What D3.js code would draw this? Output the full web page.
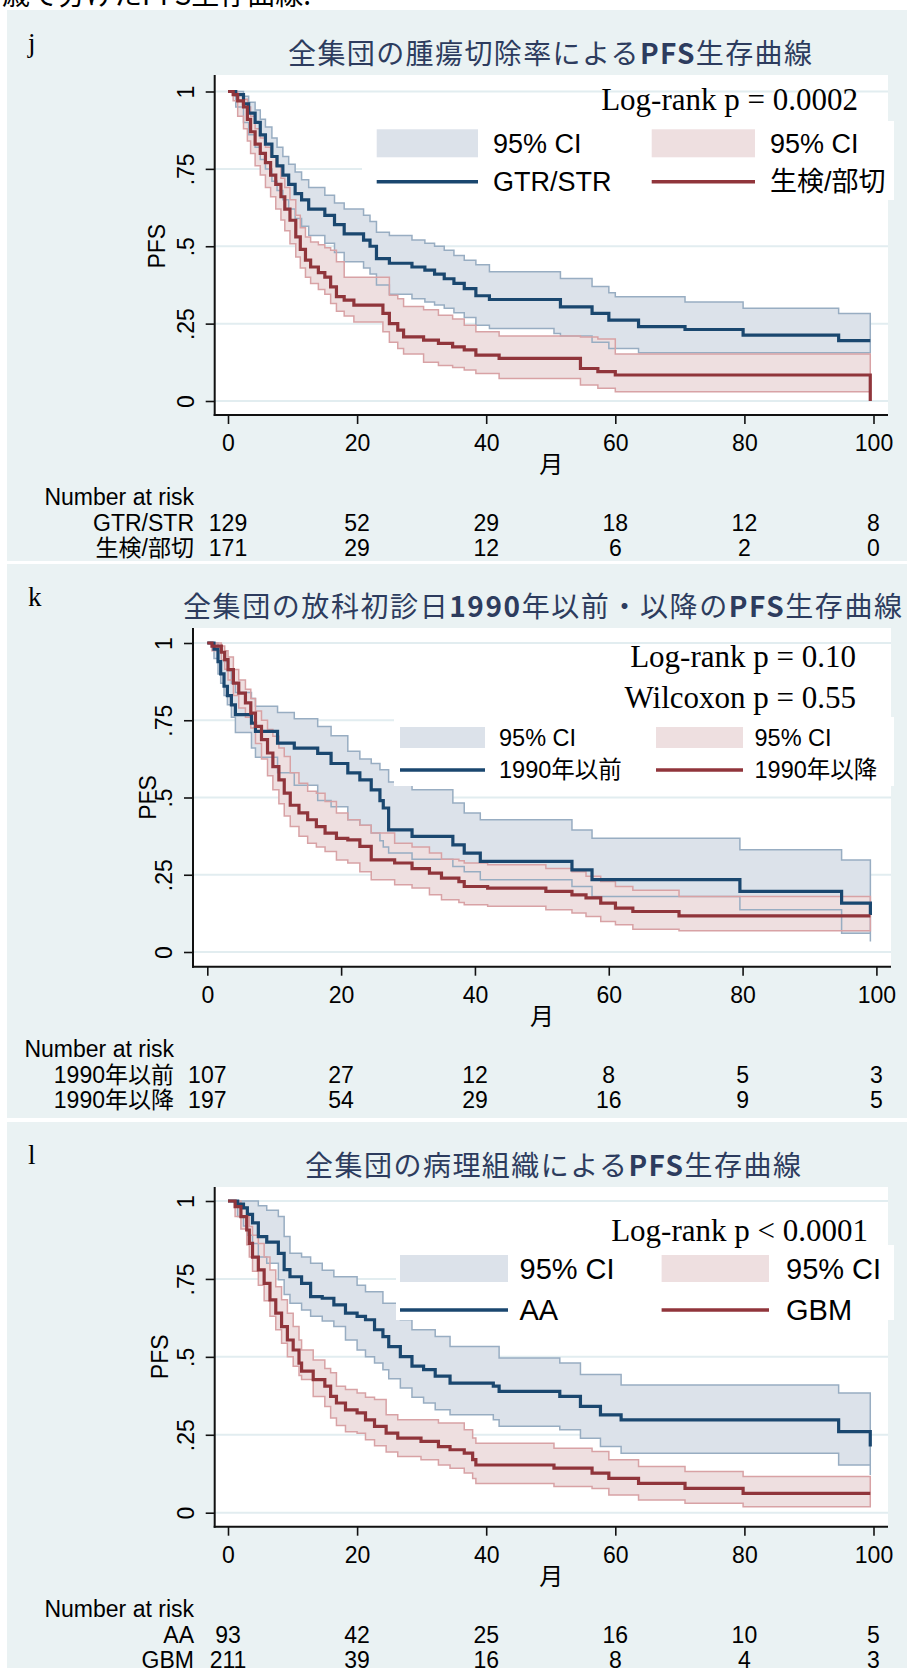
<!DOCTYPE html>
<html lang="ja">
<head>
<meta charset="utf-8">
<title>PFS生存曲線</title>
<script src="https://cdn.jsdelivr.net/npm/d3@7/dist/d3.min.js"></script>
<style>
  html, body { margin: 0; padding: 0; background: #ffffff; }
  svg { display: block; }
</style>
</head>
<body>
<svg id="fig" width="910" height="1668"></svg>
<script>
// ---------- shared axis ticks ----------
const monthTicks = [0, 20, 40, 60, 80, 100];
const survTicks = [0, 0.25, 0.5, 0.75, 1];
const survTickLabels = ["0", ".25", ".5", ".75", "1"];

// ---------- panel j : resection extent ----------
const jTitle = "全集団の腫瘍切除率によるPFS生存曲線";
const jGroups = ["GTR/STR", "生検/部切"];
const jStats = ["Log-rank p = 0.0002"];
const jTimeA = [0, 1.2, 2.4, 3.2, 4.2, 5.0, 5.8, 6.8, 7.6, 8.5, 9.4, 10.4, 11.4, 12.5, 15.0, 16.5, 18.0, 21.0, 22.0, 23.0, 25.0, 28.5, 30.5, 32.0, 33.5, 35.0, 36.6, 38.4, 40.5, 50.5, 51.5, 56.4, 59.0, 60.0, 63.6, 70.8, 79.8, 94.6, 99.5];
const jSurvA = [1, 0.99, 0.96, 0.93, 0.90, 0.86, 0.83, 0.79, 0.76, 0.73, 0.70, 0.67, 0.65, 0.62, 0.60, 0.57, 0.54, 0.52, 0.50, 0.46, 0.445, 0.433, 0.423, 0.41, 0.395, 0.38, 0.363, 0.34, 0.328, 0.328, 0.304, 0.283, 0.261, 0.261, 0.24, 0.231, 0.213, 0.195, 0.195];
const jLowA  = [1, 0.95, 0.90, 0.86, 0.82, 0.78, 0.75, 0.71, 0.68, 0.65, 0.62, 0.59, 0.565, 0.535, 0.51, 0.48, 0.45, 0.43, 0.41, 0.375, 0.345, 0.33, 0.32, 0.31, 0.30, 0.285, 0.27, 0.245, 0.234, 0.218, 0.21, 0.19, 0.17, 0.17, 0.156, 0.156, 0.156, 0.156, 0.156];
const jHighA = [1, 1, 0.985, 0.965, 0.94, 0.91, 0.885, 0.85, 0.82, 0.79, 0.765, 0.74, 0.715, 0.69, 0.665, 0.64, 0.62, 0.60, 0.58, 0.545, 0.535, 0.52, 0.51, 0.50, 0.487, 0.47, 0.455, 0.44, 0.418, 0.418, 0.396, 0.37, 0.35, 0.337, 0.337, 0.32, 0.30, 0.283, 0.283];
const jTimeB = [0, 0.8, 1.5, 2.4, 3.0, 3.5, 4.2, 5.0, 5.8, 6.6, 7.4, 8.2, 8.8, 9.6, 10.5, 11.2, 12.0, 12.8, 14.0, 15.0, 15.9, 16.8, 18.0, 19.5, 24.0, 25.0, 26.3, 27.2, 30.3, 32.6, 34.8, 36.6, 38.4, 42.0, 54.6, 57.3, 60.0, 99.5];
const jSurvB = [1, 0.99, 0.97, 0.95, 0.91, 0.87, 0.83, 0.80, 0.77, 0.73, 0.70, 0.66, 0.62, 0.584, 0.53, 0.49, 0.455, 0.433, 0.415, 0.40, 0.369, 0.337, 0.326, 0.31, 0.283, 0.25, 0.229, 0.207, 0.197, 0.186, 0.175, 0.165, 0.148, 0.138, 0.105, 0.095, 0.084, 0];
const jLowB  = [1, 0.97, 0.92, 0.88, 0.84, 0.80, 0.76, 0.73, 0.69, 0.66, 0.62, 0.585, 0.55, 0.508, 0.465, 0.43, 0.40, 0.38, 0.36, 0.345, 0.315, 0.29, 0.275, 0.255, 0.224, 0.19, 0.17, 0.152, 0.125, 0.115, 0.108, 0.10, 0.089, 0.073, 0.052, 0.041, 0.03, 0.03];
const jHighB = [1, 1, 0.99, 0.975, 0.95, 0.92, 0.88, 0.85, 0.82, 0.79, 0.76, 0.72, 0.69, 0.65, 0.60, 0.56, 0.53, 0.514, 0.505, 0.495, 0.487, 0.45, 0.40, 0.40, 0.40, 0.342, 0.33, 0.305, 0.295, 0.277, 0.265, 0.245, 0.224, 0.21, 0.207, 0.2, 0.152, 0.152];
const jRiskA = [129, 52, 29, 18, 12, 8];
const jRiskB = [171, 29, 12, 6, 2, 0];

// ---------- panel k : first visit before / after 1990 ----------
const kTitle = "全集団の放科初診日1990年以前・以降のPFS生存曲線";
const kGroups = ["1990年以前", "1990年以降"];
const kStats = ["Log-rank p = 0.10", "Wilcoxon p = 0.55"];
const kTimeA = [0, 1.0, 1.6, 2.0, 2.5, 3.0, 3.6, 4.2, 6.6, 7.2, 10.5, 13.0, 16.5, 18.5, 21.0, 22.8, 24.5, 25.8, 26.3, 27.1, 30.6, 36.7, 38.4, 40.8, 54.5, 57.5, 79.6, 94.8, 99.1];
const kSurvA = [1, 0.98, 0.94, 0.90, 0.86, 0.83, 0.80, 0.768, 0.741, 0.714, 0.676, 0.66, 0.643, 0.61, 0.58, 0.557, 0.525, 0.49, 0.466, 0.395, 0.374, 0.347, 0.32, 0.293, 0.266, 0.234, 0.196, 0.158, 0.12];
const kLowA  = [1, 0.95, 0.90, 0.87, 0.83, 0.80, 0.76, 0.71, 0.66, 0.63, 0.58, 0.54, 0.49, 0.47, 0.428, 0.41, 0.385, 0.36, 0.34, 0.32, 0.30, 0.277, 0.26, 0.234, 0.212, 0.18, 0.137, 0.061, 0.034];
const kHighA = [1, 1, 0.99, 0.97, 0.94, 0.91, 0.87, 0.84, 0.82, 0.795, 0.775, 0.755, 0.73, 0.70, 0.65, 0.625, 0.61, 0.59, 0.59, 0.55, 0.525, 0.482, 0.45, 0.428, 0.395, 0.368, 0.331, 0.298, 0.298];
const kTimeB = [0, 0.7, 2.1, 2.6, 3.1, 3.9, 4.7, 5.7, 6.5, 7.2, 8.1, 9.0, 9.8, 10.7, 11.5, 12.4, 13.7, 15.0, 16.3, 17.6, 19.3, 21.0, 22.8, 24.5, 28.0, 30.6, 33.2, 35.0, 37.6, 38.4, 41.9, 50.6, 54.5, 56.6, 58.8, 61.0, 63.6, 70.5, 99.1];
const kSurvB = [1, 0.99, 0.97, 0.946, 0.914, 0.87, 0.838, 0.806, 0.773, 0.73, 0.687, 0.644, 0.60, 0.557, 0.514, 0.475, 0.45, 0.428, 0.406, 0.385, 0.368, 0.363, 0.342, 0.298, 0.288, 0.27, 0.255, 0.239, 0.228, 0.212, 0.207, 0.196, 0.185, 0.175, 0.158, 0.142, 0.131, 0.117, 0.117];
const kLowB  = [1, 0.975, 0.945, 0.915, 0.88, 0.83, 0.79, 0.76, 0.725, 0.675, 0.625, 0.57, 0.525, 0.48, 0.44, 0.406, 0.375, 0.352, 0.34, 0.325, 0.298, 0.288, 0.26, 0.234, 0.218, 0.207, 0.185, 0.169, 0.16, 0.153, 0.148, 0.137, 0.126, 0.115, 0.099, 0.088, 0.074, 0.069, 0.069];
const kHighB = [1, 1, 0.99, 0.975, 0.955, 0.914, 0.88, 0.85, 0.82, 0.78, 0.75, 0.72, 0.698, 0.66, 0.633, 0.58, 0.546, 0.52, 0.514, 0.487, 0.45, 0.428, 0.41, 0.385, 0.352, 0.34, 0.32, 0.30, 0.295, 0.288, 0.282, 0.27, 0.26, 0.245, 0.228, 0.212, 0.2, 0.18, 0.18];
const kRiskA = [107, 27, 12, 8, 5, 3];
const kRiskB = [197, 54, 29, 16, 9, 5];

// ---------- panel l : histology ----------
const lTitle = "全集団の病理組織によるPFS生存曲線";
const lGroups = ["AA", "GBM"];
const lStats = ["Log-rank p < 0.0001"];
const lTimeA = [0, 1.5, 2.4, 3.0, 3.8, 4.7, 6.0, 7.8, 8.7, 9.6, 11.4, 12.8, 14.6, 16.4, 18.2, 20.0, 21.3, 22.7, 24.0, 24.9, 26.7, 28.5, 30.3, 32.1, 34.4, 41.1, 42.0, 51.4, 54.6, 57.7, 60.9, 94.6, 99.5];
const lSurvA = [1, 0.99, 0.978, 0.957, 0.93, 0.886, 0.868, 0.832, 0.78, 0.757, 0.736, 0.693, 0.688, 0.667, 0.64, 0.63, 0.619, 0.587, 0.565, 0.533, 0.501, 0.47, 0.459, 0.438, 0.416, 0.406, 0.389, 0.373, 0.341, 0.314, 0.298, 0.26, 0.212];
const lLowA  = [1, 0.95, 0.92, 0.89, 0.864, 0.82, 0.80, 0.747, 0.70, 0.672, 0.65, 0.63, 0.615, 0.597, 0.554, 0.522, 0.50, 0.48, 0.459, 0.43, 0.40, 0.37, 0.352, 0.33, 0.314, 0.298, 0.277, 0.266, 0.239, 0.212, 0.191, 0.153, 0.121];
const lHighA = [1, 1, 1, 1, 1, 0.985, 0.97, 0.95, 0.886, 0.832, 0.82, 0.80, 0.778, 0.757, 0.757, 0.73, 0.709, 0.709, 0.672, 0.672, 0.619, 0.587, 0.587, 0.565, 0.533, 0.533, 0.496, 0.48, 0.443, 0.443, 0.41, 0.384, 0.352];
const lTimeB = [0, 1.1, 2.0, 2.9, 3.3, 3.8, 4.7, 5.6, 6.5, 7.4, 8.3, 9.2, 10.1, 11.0, 11.4, 13.2, 15.0, 15.9, 16.8, 18.2, 20.0, 21.3, 22.7, 24.5, 26.3, 29.9, 32.6, 34.4, 36.6, 37.9, 38.4, 50.5, 56.4, 59.0, 63.6, 70.8, 79.8, 99.5];
const lSurvB = [1, 0.982, 0.95, 0.907, 0.864, 0.82, 0.779, 0.736, 0.683, 0.64, 0.597, 0.554, 0.522, 0.48, 0.454, 0.427, 0.406, 0.373, 0.352, 0.33, 0.32, 0.298, 0.277, 0.255, 0.239, 0.229, 0.212, 0.202, 0.191, 0.17, 0.153, 0.143, 0.127, 0.11, 0.094, 0.078, 0.062, 0.062];
const lLowB  = [1, 0.95, 0.91, 0.86, 0.82, 0.775, 0.73, 0.68, 0.63, 0.587, 0.544, 0.50, 0.47, 0.44, 0.427, 0.373, 0.341, 0.304, 0.28, 0.26, 0.255, 0.234, 0.215, 0.195, 0.18, 0.17, 0.153, 0.143, 0.127, 0.11, 0.094, 0.084, 0.078, 0.057, 0.041, 0.03, 0.019, 0.019];
const lHighB = [1, 1, 0.98, 0.95, 0.918, 0.89, 0.864, 0.82, 0.779, 0.725, 0.683, 0.64, 0.597, 0.554, 0.522, 0.49, 0.463, 0.449, 0.406, 0.395, 0.384, 0.37, 0.363, 0.314, 0.298, 0.298, 0.288, 0.288, 0.266, 0.24, 0.223, 0.207, 0.196, 0.17, 0.148, 0.132, 0.116, 0.116];
const lRiskA = [93, 42, 25, 16, 10, 5];
const lRiskB = [211, 39, 16, 8, 4, 3];

// ---------- styling ----------
const SANS = "'Liberation Sans', Arial, 'Noto Sans CJK JP', sans-serif";
const SERIF = "'Liberation Serif', 'Times New Roman', serif";
const CJK = "'Noto Sans CJK JP', 'Liberation Sans', sans-serif";
const FRAME_BG = "#eaf2f3";
const GRID_COL = "#e2edf0";
const TITLE_COL = "#2d3c5e";
const BAND_FILL = ["#dce2ea", "#eedfe0"];
const BAND_EDGE = ["#98adc2", "#d8a2a5"];
const LINE_COL = ["#1a476f", "#90353b"];

// ---------- layout of each panel ----------
const panels = [
  {
    letter: "j", title: jTitle, groups: jGroups, stats: jStats,
    series: [
      { time: jTimeA, surv: jSurvA, low: jLowA, high: jHighA, risk: jRiskA },
      { time: jTimeB, surv: jSurvB, low: jLowB, high: jHighB, risk: jRiskB }
    ],
    frame: { x: 7, y: 10, w: 900, h: 551 },
    plot: { left: 214.7, right: 888, top: 75, bottom: 415, x0: 228, x100: 873.5, y0: 401, y1: 91.5 },
    titleX: 288, titleLen: 524, titleY: 53,
    statsRight: 858, statsBase: [110],
    yTitleX: 157, riskRight: 194,
    legend: { bg: [362, 121, 894, 200], boxX: [376.7, 651.7], boxW: [101.3, 103.3],
              textX: [493, 770], row1: 143.3, row2: 181.7, boxH: 28, font: 27 }
  },
  {
    letter: "k", title: kTitle, groups: kGroups, stats: kStats,
    series: [
      { time: kTimeA, surv: kSurvA, low: kLowA, high: kHighA, risk: kRiskA },
      { time: kTimeB, surv: kSurvB, low: kLowB, high: kHighB, risk: kRiskB }
    ],
    frame: { x: 7, y: 564, w: 900, h: 554 },
    plot: { left: 193, right: 891, top: 628, bottom: 966.7, x0: 207.3, x100: 876.4, y0: 952, y1: 643 },
    titleX: 183, titleLen: 719, titleY: 606,
    statsRight: 856, statsBase: [667, 708],
    yTitleX: 148, riskRight: 174,
    legend: { bg: [394, 717, 894, 786], boxX: [400, 656], boxW: [85, 87],
              textX: [499, 754.5], row1: 737.5, row2: 770, boxH: 21, font: 23.5 }
  },
  {
    letter: "l", title: lTitle, groups: lGroups, stats: lStats,
    series: [
      { time: lTimeA, surv: lSurvA, low: lLowA, high: lHighA, risk: lRiskA },
      { time: lTimeB, surv: lSurvB, low: lLowB, high: lHighB, risk: lRiskB }
    ],
    frame: { x: 7, y: 1122, w: 900, h: 560 },
    plot: { left: 214.7, right: 888, top: 1187, bottom: 1526.7, x0: 228, x100: 873.5, y0: 1512.7, y1: 1201 },
    titleX: 305, titleLen: 496, titleY: 1165,
    statsRight: 868, statsBase: [1241],
    yTitleX: 159.5, riskRight: 194,
    legend: { bg: [396, 1245, 894, 1320], boxX: [400, 661.6], boxW: [108, 107.4],
              textX: [519.5, 786], row1: 1268.5, row2: 1310, boxH: 27, font: 29 }
  }
];

const svg = d3.select("#fig");

// caption line of the page above the figures (only its lower edge is in view)
svg.append("text")
  .attr("x", 2).attr("y", 5)
  .style("font-family", CJK).style("font-size", "28px")
  .attr("fill", "#000")
  .text("歳で分けたPFS生存曲線.");

function drawPanel(p) {
  const g = svg.append("g");
  const P = p.plot;

  g.append("rect")
    .attr("x", p.frame.x).attr("y", p.frame.y)
    .attr("width", p.frame.w).attr("height", p.frame.h)
    .attr("fill", FRAME_BG);

  g.append("rect")
    .attr("x", P.left).attr("y", P.top)
    .attr("width", P.right - P.left).attr("height", P.bottom - P.top)
    .attr("fill", "#ffffff");

  const x = d3.scaleLinear().domain([0, 100]).range([P.x0, P.x100]);
  const y = d3.scaleLinear().domain([0, 1]).range([P.y0, P.y1]);

  // horizontal grid lines at the survival ticks
  g.append("g").selectAll("line").data(survTicks).join("line")
    .attr("x1", P.left).attr("x2", P.right)
    .attr("y1", d => y(d)).attr("y2", d => y(d))
    .attr("stroke", GRID_COL).attr("stroke-width", 2);

  const rows = p.series.map(s => s.time.map((t, i) => ({ t, s: s.surv[i], lo: s.low[i], hi: s.high[i] })));

  const band = d3.area().curve(d3.curveStepAfter)
    .x(d => x(d.t)).y0(d => y(d.lo)).y1(d => y(d.hi));
  const km = d3.line().curve(d3.curveStepAfter)
    .x(d => x(d.t)).y(d => y(d.s));

  // confidence bands: fills first, then their outlines
  rows.forEach((r, i) => {
    g.append("path").datum(r).attr("d", band)
      .attr("fill", BAND_FILL[i]).attr("stroke", "none");
  });
  rows.forEach((r, i) => {
    g.append("path").datum(r).attr("d", band)
      .attr("fill", "none").attr("stroke", BAND_EDGE[i]).attr("stroke-width", 1.5);
  });
  // Kaplan-Meier estimates
  rows.forEach((r, i) => {
    g.append("path").datum(r).attr("d", km)
      .attr("fill", "none").attr("stroke", LINE_COL[i])
      .attr("stroke-width", 3.2).attr("stroke-linejoin", "miter");
  });

  // axis lines
  g.append("line").attr("x1", P.left).attr("x2", P.left).attr("y1", P.top).attr("y2", P.bottom + 1)
    .attr("stroke", "#111").attr("stroke-width", 2);
  g.append("line").attr("x1", P.left - 1).attr("x2", P.right).attr("y1", P.bottom).attr("y2", P.bottom)
    .attr("stroke", "#111").attr("stroke-width", 2);

  // y axis ticks with rotated labels
  const yAxis = d3.axisLeft(y).tickValues(survTicks)
    .tickFormat((d, i) => survTickLabels[i]).tickSize(9).tickSizeOuter(0);
  const gy = g.append("g").attr("transform", `translate(${P.left},0)`).call(yAxis);
  gy.select(".domain").remove();
  gy.selectAll(".tick line").attr("stroke", "#111").attr("stroke-width", 1.6);
  gy.selectAll(".tick text")
    .attr("x", null).attr("dy", null)
    .attr("transform", "translate(-21,0) rotate(-90)")
    .attr("text-anchor", "middle")
    .attr("fill", "#000")
    .style("font-family", SANS).style("font-size", "23px");

  // x axis ticks
  const xAxis = d3.axisBottom(x).tickValues(monthTicks).tickSize(9).tickPadding(11).tickSizeOuter(0);
  const gx = g.append("g").attr("transform", `translate(0,${P.bottom})`).call(xAxis);
  gx.select(".domain").remove();
  gx.selectAll(".tick line").attr("stroke", "#111").attr("stroke-width", 1.6);
  gx.selectAll(".tick text").attr("fill", "#000")
    .style("font-family", SANS).style("font-size", "23px");

  // axis titles
  g.append("text")
    .attr("transform", `translate(${p.yTitleX + 8},${y(0.5)}) rotate(-90)`)
    .attr("text-anchor", "middle").attr("fill", "#000")
    .style("font-family", SANS).style("font-size", "23px")
    .text("PFS");
  g.append("text")
    .attr("x", (P.left + P.right) / 2).attr("y", P.bottom + 49).attr("dy", "0.38em")
    .attr("text-anchor", "middle").attr("fill", "#000")
    .style("font-family", CJK).style("font-size", "24px")
    .text("月");

  // panel letter
  g.append("text")
    .attr("x", 28).attr("y", p.frame.y + 42)
    .attr("fill", "#000").style("font-family", SERIF).style("font-size", "27px")
    .text(p.letter);

  // title: Latin runs set in bold
  const tt = g.append("text")
    .attr("x", p.titleX).attr("y", p.titleY).attr("dy", "0.38em")
    .attr("textLength", p.titleLen).attr("lengthAdjust", "spacing")
    .attr("fill", TITLE_COL)
    .style("font-family", CJK).style("font-size", "28px");
  p.title.split(/([A-Za-z0-9]+)/).filter(s => s.length).forEach(s => {
    tt.append("tspan").text(s).style("font-weight", /[A-Za-z0-9]/.test(s) ? "bold" : "normal");
  });

  // legend
  const L = p.legend;
  g.append("rect")
    .attr("x", L.bg[0]).attr("y", L.bg[1])
    .attr("width", L.bg[2] - L.bg[0]).attr("height", L.bg[3] - L.bg[1])
    .attr("fill", "#ffffff");
  [0, 1].forEach(i => {
    g.append("rect")
      .attr("x", L.boxX[i]).attr("y", L.row1 - L.boxH / 2)
      .attr("width", L.boxW[i]).attr("height", L.boxH)
      .attr("fill", BAND_FILL[i]);
    g.append("text")
      .attr("x", L.textX[i]).attr("y", L.row1).attr("dy", "0.36em")
      .attr("fill", "#000").style("font-family", SANS).style("font-size", L.font + "px")
      .text("95% CI");
    g.append("line")
      .attr("x1", L.boxX[i]).attr("x2", L.boxX[i] + L.boxW[i])
      .attr("y1", L.row2).attr("y2", L.row2)
      .attr("stroke", LINE_COL[i]).attr("stroke-width", 3.6);
    g.append("text")
      .attr("x", L.textX[i]).attr("y", L.row2).attr("dy", "0.36em")
      .attr("fill", "#000").style("font-family", SANS).style("font-size", L.font + "px")
      .text(p.groups[i]);
  });

  // test statistics
  p.stats.forEach((s, i) => {
    g.append("text")
      .attr("x", p.statsRight).attr("y", p.statsBase[i])
      .attr("text-anchor", "end").attr("fill", "#000")
      .style("font-family", SERIF).style("font-size", "31px")
      .text(s);
  });

  // number-at-risk table
  g.append("text")
    .attr("x", p.riskRight).attr("y", P.bottom + 82).attr("dy", "0.36em")
    .attr("text-anchor", "end").attr("fill", "#000")
    .style("font-family", SANS).style("font-size", "23px")
    .text("Number at risk");
  p.series.forEach((s, gi) => {
    const ry = P.bottom + 108 + gi * 25;
    g.append("text")
      .attr("x", p.riskRight).attr("y", ry).attr("dy", "0.36em")
      .attr("text-anchor", "end").attr("fill", "#000")
      .style("font-family", SANS).style("font-size", "23px")
      .text(p.groups[gi]);
    g.append("g").selectAll("text").data(s.risk).join("text")
      .attr("x", (d, i) => x(monthTicks[i])).attr("y", ry).attr("dy", "0.36em")
      .attr("text-anchor", "middle").attr("fill", "#000")
      .style("font-family", SANS).style("font-size", "23px")
      .text(d => d);
  });
}

panels.forEach(drawPanel);
</script>
</body>
</html>
